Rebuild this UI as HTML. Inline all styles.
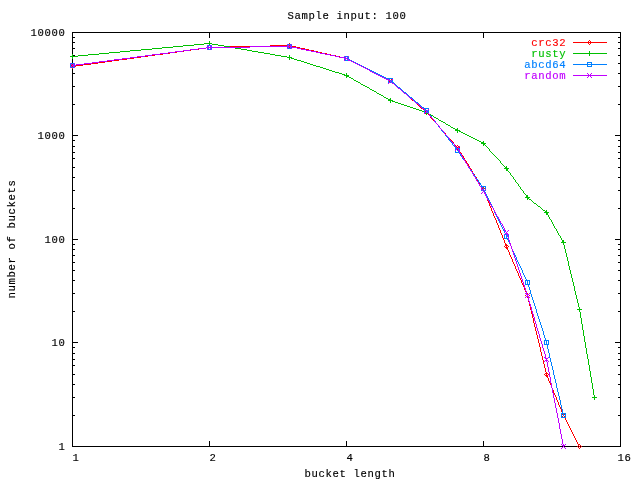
<!DOCTYPE html>
<html lang="en">
<head>
<meta charset="utf-8">
<title>Sample input: 100</title>
<style>
html,body{margin:0;padding:0;background:#fff;}
body{width:640px;height:480px;overflow:hidden;}
svg{display:block;}
text{font-family:"Liberation Mono","DejaVu Sans Mono",monospace;font-size:10.6px;letter-spacing:0.639px;fill:#000;stroke:#000;stroke-width:0.15px;}
.ln{fill:none;stroke-width:1;}
</style>
</head>
<body>
<svg width="640" height="480" viewBox="0 0 640 480">
<rect x="0" y="0" width="640" height="480" fill="#ffffff"/>

<g stroke="#000" stroke-width="1" fill="none" shape-rendering="crispEdges">
<rect x="72.5" y="32.5" width="548" height="414"/>
<path d="M72 415.5H75M621 415.5H618"/>
<path d="M72 397.5H75M621 397.5H618"/>
<path d="M72 384.5H75M621 384.5H618"/>
<path d="M72 374.5H75M621 374.5H618"/>
<path d="M72 365.5H75M621 365.5H618"/>
<path d="M72 359.5H75M621 359.5H618"/>
<path d="M72 353.5H75M621 353.5H618"/>
<path d="M72 347.5H75M621 347.5H618"/>
<path d="M72 342.5H78M621 342.5H615"/>
<path d="M72 311.5H75M621 311.5H618"/>
<path d="M72 293.5H75M621 293.5H618"/>
<path d="M72 280.5H75M621 280.5H618"/>
<path d="M72 270.5H75M621 270.5H618"/>
<path d="M72 262.5H75M621 262.5H618"/>
<path d="M72 255.5H75M621 255.5H618"/>
<path d="M72 249.5H75M621 249.5H618"/>
<path d="M72 244.5H75M621 244.5H618"/>
<path d="M72 239.5H78M621 239.5H615"/>
<path d="M72 208.5H75M621 208.5H618"/>
<path d="M72 190.5H75M621 190.5H618"/>
<path d="M72 177.5H75M621 177.5H618"/>
<path d="M72 167.5H75M621 167.5H618"/>
<path d="M72 158.5H75M621 158.5H618"/>
<path d="M72 152.5H75M621 152.5H618"/>
<path d="M72 146.5H75M621 146.5H618"/>
<path d="M72 140.5H75M621 140.5H618"/>
<path d="M72 135.5H78M621 135.5H615"/>
<path d="M72 104.5H75M621 104.5H618"/>
<path d="M72 86.5H75M621 86.5H618"/>
<path d="M72 73.5H75M621 73.5H618"/>
<path d="M72 63.5H75M621 63.5H618"/>
<path d="M72 55.5H75M621 55.5H618"/>
<path d="M72 48.5H75M621 48.5H618"/>
<path d="M72 42.5H75M621 42.5H618"/>
<path d="M72 37.5H75M621 37.5H618"/>
<path d="M209.5 447V441M209.5 32V38"/>
<path d="M346.5 447V441M346.5 32V38"/>
<path d="M483.5 447V441M483.5 32V38"/>
</g>
<text x="30.5" y="36" text-anchor="start">10000</text>
<text x="37.5" y="139" text-anchor="start">1000</text>
<text x="44.5" y="243" text-anchor="start">100</text>
<text x="51.5" y="346" text-anchor="start">10</text>
<text x="58.5" y="450" text-anchor="start">1</text>
<text x="72.5" y="461" text-anchor="start">1</text>
<text x="209.5" y="461" text-anchor="start">2</text>
<text x="346.5" y="461" text-anchor="start">4</text>
<text x="483.5" y="461" text-anchor="start">8</text>
<text x="617.5" y="461" text-anchor="start">16</text>
<text x="287.5" y="19" text-anchor="start">Sample input: 100</text>
<text x="304.5" y="477" text-anchor="start">bucket length</text>
<text transform="translate(15,298.5) rotate(-90)" x="0" y="0">number of buckets</text>
<path d="M573 42.5h34M270 45.5h22M230 46.5h40M292 46.5h4M206 47.5h24M296 47.5h4M199 48.5h7M300 48.5h5M191 49.5h8M305 49.5h4M184 50.5h7M309 50.5h5M177 51.5h7M314 51.5h4M170 52.5h7M318 52.5h4M163 53.5h7M322 53.5h5M155 54.5h8M327 54.5h4M148 55.5h7M331 55.5h5M141 56.5h7M336 56.5h4M134 57.5h7M340 57.5h4M127 58.5h7M344 58.5h5M119 59.5h8M347 59.5h3M112 60.5h7M350 60.5h2M105 61.5h7M352 61.5h2M98 62.5h7M354 62.5h2M91 63.5h7M356 63.5h2M83 64.5h8M358 64.5h2M76 65.5h7M360 65.5h2M72 66.5h4M362 66.5h2M364 67.5h2M366 68.5h2M368 69.5h2M370 70.5h2M372 71.5h2M374 72.5h2M376 73.5h2M378 74.5h2M380 75.5h2M382 76.5h2M384 77.5h2M386 78.5h2M388 79.5h2M394 84.5h2M403 92.5h2M412 100.5h2M421 108.5h2M457 149.5h2M482 187.5h2M482 190.5h3M483 191.5h2M505 244.5h2M505 245.5h3M505 247.5h3M506 248.5h2M526 293.5h2M526 294.5h3M526 296.5h3M545 373.5h3M545 375.5h3M546 376.5h2M562 413.5h2M562 414.5h3M563 417.5h2M578 444.5h2M70.5 66v1M71.5 65v1M71.5 67v1M72.5 64v1M72.5 68v1M73.5 65v1M73.5 67v1M208.5 46v1M208.5 48v1M209.5 45v1M209.5 49v1M210.5 46v1M210.5 48v1M288.5 44v1M288.5 46v1M289.5 43v1M289.5 47v1M290.5 44v1M290.5 46v1M345.5 57v1M345.5 59v1M346.5 56v1M346.5 60v1M347.5 57v1M388.5 80v1M389.5 81v1M390.5 78v1M390.5 80v1M390.5 82v1M391.5 79v1M391.5 81v1M392.5 80v1M392.5 82v1M393.5 83v1M396.5 85v1M397.5 86v1M398.5 87v1M399.5 88v1M400.5 89v1M401.5 90v1M402.5 91v1M405.5 93v1M406.5 94v1M407.5 95v1M408.5 96v1M409.5 97v1M410.5 98v1M411.5 99v1M414.5 101v1M415.5 102v1M416.5 103v1M417.5 104v1M418.5 105v1M419.5 106v1M420.5 107v1M423.5 109v1M424.5 110v1M424.5 112v1M425.5 111v1M425.5 113v1M426.5 110v1M426.5 112v1M426.5 114v1M427.5 111v1M427.5 113v1M428.5 112v1M428.5 114v1M429.5 115v1M430.5 116v2M431.5 118v1M432.5 119v1M433.5 120v1M434.5 121v1M435.5 122v1M436.5 123v1M437.5 124v1M438.5 125v2M439.5 127v1M440.5 128v1M441.5 129v1M442.5 130v1M443.5 131v1M444.5 132v1M445.5 133v2M446.5 135v1M447.5 136v1M448.5 137v1M449.5 138v1M450.5 139v1M451.5 140v1M452.5 141v1M453.5 142v2M454.5 144v1M455.5 145v1M455.5 147v1M456.5 146v1M456.5 148v1M457.5 145v1M457.5 147v1M458.5 146v1M458.5 148v1M459.5 147v1M459.5 150v2M460.5 152v1M461.5 153v2M462.5 155v1M463.5 156v2M464.5 158v2M465.5 160v1M466.5 161v2M467.5 163v1M468.5 164v2M469.5 166v2M470.5 168v1M471.5 169v2M472.5 171v2M473.5 173v1M474.5 174v2M475.5 176v1M476.5 177v2M477.5 179v2M478.5 181v1M479.5 182v2M480.5 184v1M481.5 185v2M481.5 189v1M482.5 188v1M483.5 189v1M484.5 188v1M484.5 192v1M485.5 189v1M485.5 193v3M486.5 196v2M487.5 198v3M488.5 201v2M489.5 203v3M490.5 206v2M491.5 208v3M492.5 211v2M493.5 213v3M494.5 216v2M495.5 218v2M496.5 220v3M497.5 223v2M498.5 225v3M499.5 228v2M500.5 230v3M501.5 233v2M502.5 235v3M503.5 238v2M504.5 240v3M504.5 246v1M505.5 243v1M506.5 246v1M507.5 249v1M508.5 246v1M508.5 250v2M509.5 252v3M510.5 255v2M511.5 257v2M512.5 259v3M513.5 262v2M514.5 264v2M515.5 266v3M516.5 269v2M517.5 271v2M518.5 273v3M519.5 276v2M520.5 278v2M521.5 280v3M522.5 283v2M523.5 285v2M524.5 287v3M525.5 290v2M525.5 295v1M526.5 292v1M527.5 295v1M527.5 297v1M528.5 298v4M529.5 295v1M529.5 302v4M530.5 306v4M531.5 310v4M532.5 314v4M533.5 318v5M534.5 323v4M535.5 327v4M536.5 331v4M537.5 335v4M538.5 339v4M539.5 343v4M540.5 347v5M541.5 352v4M542.5 356v4M543.5 360v4M544.5 364v4M544.5 374v1M545.5 368v4M546.5 372v1M546.5 374v1M547.5 377v1M548.5 374v1M548.5 378v3M549.5 381v2M550.5 383v2M551.5 385v3M552.5 388v2M553.5 390v3M554.5 393v2M555.5 395v2M556.5 397v3M557.5 400v2M558.5 402v3M559.5 405v2M560.5 407v2M561.5 409v3M561.5 415v1M562.5 412v1M562.5 416v1M563.5 415v1M564.5 416v1M565.5 415v1M565.5 418v2M566.5 420v2M567.5 422v2M568.5 424v2M569.5 426v2M570.5 428v2M571.5 430v2M572.5 432v2M573.5 434v2M574.5 436v2M575.5 438v2M576.5 440v2M577.5 442v2M577.5 446v1M578.5 445v1M578.5 447v1M579.5 446v1M579.5 448v1M580.5 445v1M580.5 447v1M581.5 446v1M588.5 41v1M588.5 43v1M589.5 40v1M589.5 44v1M590.5 41v1M590.5 43v1" fill="none" stroke="#ff0000" stroke-width="1" shape-rendering="crispEdges"/>
<text x="531.2" y="46" text-anchor="start" style="fill:#ff0000;stroke:#ff0000">crc32</text>
<path d="M204 43.5h8M194 44.5h10M212 44.5h6M183 45.5h11M218 45.5h6M173 46.5h10M224 46.5h6M162 47.5h11M230 47.5h5M152 48.5h10M235 48.5h6M141 49.5h11M241 49.5h6M130 50.5h11M247 50.5h5M120 51.5h10M252 51.5h6M109 52.5h11M258 52.5h6M99 53.5h10M264 53.5h6M573 53.5h34M88 54.5h11M270 54.5h5M78 55.5h10M275 55.5h6M70 56.5h8M281 56.5h6M287 57.5h5M291 58.5h3M294 59.5h3M297 60.5h4M301 61.5h3M304 62.5h3M307 63.5h3M310 64.5h3M313 65.5h3M316 66.5h4M320 67.5h3M323 68.5h3M326 69.5h3M329 70.5h3M332 71.5h3M335 72.5h4M339 73.5h3M342 74.5h3M344 75.5h5M346 76.5h3M349 77.5h2M351 78.5h2M354 80.5h2M356 81.5h2M358 82.5h2M361 84.5h2M363 85.5h2M365 86.5h2M367 87.5h2M370 89.5h2M372 90.5h2M374 91.5h2M377 93.5h2M379 94.5h2M381 95.5h2M384 97.5h2M386 98.5h2M388 99.5h3M388 100.5h5M392 101.5h3M395 102.5h3M398 103.5h3M401 104.5h3M404 105.5h3M407 106.5h3M410 107.5h3M413 108.5h3M416 109.5h3M419 110.5h3M422 111.5h3M424 112.5h5M426 113.5h3M429 114.5h2M431 115.5h2M434 117.5h2M436 118.5h2M439 120.5h2M441 121.5h2M443 122.5h2M446 124.5h2M448 125.5h2M451 127.5h2M453 128.5h2M455 129.5h3M455 130.5h5M459 131.5h2M461 132.5h2M463 133.5h2M465 134.5h2M467 135.5h2M469 136.5h2M471 137.5h2M473 138.5h2M475 139.5h2M477 140.5h2M479 141.5h2M481 142.5h3M481 143.5h5M483 144.5h2M505 167.5h2M504 168.5h5M506 169.5h2M506 170.5h2M526 195.5h2M526 196.5h2M525 197.5h5M527 198.5h2M529 199.5h2M534 203.5h2M538 206.5h2M543 210.5h2M545 211.5h2M544 212.5h5M546 213.5h2M546 214.5h2M562 240.5h2M562 241.5h2M561 242.5h5M577 309.5h5M592 397.5h5M72.5 54v2M72.5 57v2M209.5 41v2M209.5 44v2M289.5 55v2M289.5 58v2M346.5 73v2M346.5 77v1M353.5 79v1M360.5 83v1M369.5 88v1M376.5 92v1M383.5 96v1M390.5 98v1M390.5 101v2M426.5 110v2M426.5 114v1M433.5 116v1M438.5 119v1M445.5 123v1M450.5 126v1M457.5 128v1M457.5 131v2M483.5 141v1M483.5 145v1M485.5 145v1M486.5 146v1M487.5 147v1M488.5 148v1M489.5 149v2M490.5 151v1M491.5 152v1M492.5 153v1M493.5 154v1M494.5 155v1M495.5 156v1M496.5 157v1M497.5 158v1M498.5 159v1M499.5 160v1M500.5 161v2M501.5 163v1M502.5 164v1M503.5 165v1M504.5 166v1M506.5 166v1M508.5 171v1M509.5 172v1M510.5 173v2M511.5 175v1M512.5 176v1M513.5 177v2M514.5 179v1M515.5 180v2M516.5 182v1M517.5 183v1M518.5 184v2M519.5 186v1M520.5 187v2M521.5 189v1M522.5 190v1M523.5 191v2M524.5 193v1M525.5 194v1M527.5 199v1M531.5 200v1M532.5 201v1M533.5 202v1M536.5 204v1M537.5 205v1M540.5 207v1M541.5 208v1M542.5 209v1M546.5 210v1M548.5 215v2M549.5 217v2M550.5 219v1M551.5 220v2M552.5 222v2M553.5 224v2M554.5 226v2M555.5 228v1M556.5 229v2M557.5 231v2M558.5 233v2M559.5 235v1M560.5 236v2M561.5 238v2M563.5 243v2M564.5 245v4M565.5 249v4M566.5 253v4M567.5 257v4M568.5 261v5M569.5 266v4M570.5 270v4M571.5 274v4M572.5 278v4M573.5 282v4M574.5 286v5M575.5 291v4M576.5 295v4M577.5 299v4M578.5 303v4M579.5 307v2M579.5 310v2M580.5 312v6M581.5 318v6M582.5 324v6M583.5 330v6M584.5 336v6M585.5 342v6M586.5 348v6M587.5 354v5M588.5 359v6M589.5 51v2M589.5 54v2M589.5 365v6M590.5 371v6M591.5 377v6M592.5 383v6M593.5 389v6M594.5 395v2M594.5 398v2" fill="none" stroke="#00c000" stroke-width="1" shape-rendering="crispEdges"/>
<text x="531.2" y="57" text-anchor="start" style="fill:#00c000;stroke:#00c000">rusty</text>
<path d="M287 44.5h5M207 45.5h5M250 46.5h42M206 47.5h44M291 47.5h6M198 48.5h8M287 48.5h5M297 48.5h4M190 49.5h8M207 49.5h5M301 49.5h5M183 50.5h7M306 50.5h5M175 51.5h8M311 51.5h5M168 52.5h7M316 52.5h4M160 53.5h8M320 53.5h5M152 54.5h8M325 54.5h5M145 55.5h7M330 55.5h5M137 56.5h8M335 56.5h4M344 56.5h5M130 57.5h7M339 57.5h6M122 58.5h8M344 58.5h5M114 59.5h8M348 59.5h2M107 60.5h7M344 60.5h5M350 60.5h2M99 61.5h8M352 61.5h2M92 62.5h7M354 62.5h2M587 62.5h5M70 63.5h5M84 63.5h8M356 63.5h2M76 64.5h8M358 64.5h2M573 64.5h34M72 65.5h4M360 65.5h2M362 66.5h2M587 66.5h5M70 67.5h5M364 67.5h2M366 68.5h2M368 69.5h2M370 70.5h2M372 71.5h2M374 72.5h2M376 73.5h2M378 74.5h2M380 75.5h2M382 76.5h2M384 77.5h2M386 78.5h7M388 79.5h2M391 81.5h2M388 82.5h6M398 87.5h2M404 92.5h2M410 97.5h2M416 102.5h2M422 107.5h2M424 108.5h5M424 109.5h2M427 111.5h2M424 112.5h5M455 148.5h5M455 149.5h2M458 151.5h2M455 152.5h5M481 186.5h5M481 187.5h2M481 190.5h5M504 234.5h5M504 238.5h5M525 280.5h5M525 284.5h5M544 340.5h5M544 344.5h5M561 413.5h5M561 417.5h5M70.5 64v3M74.5 64v1M74.5 66v1M207.5 46v1M207.5 48v1M211.5 46v1M211.5 48v1M287.5 45v1M287.5 47v1M291.5 45v1M344.5 59v1M348.5 57v1M388.5 80v2M390.5 80v1M392.5 79v2M394.5 83v1M395.5 84v1M396.5 85v1M397.5 86v1M400.5 88v1M401.5 89v1M402.5 90v1M403.5 91v1M406.5 93v1M407.5 94v1M408.5 95v1M409.5 96v1M412.5 98v1M413.5 99v1M414.5 100v1M415.5 101v1M418.5 103v1M419.5 104v1M420.5 105v1M421.5 106v1M424.5 110v2M426.5 110v1M428.5 109v2M428.5 113v1M429.5 114v1M430.5 115v1M431.5 116v2M432.5 118v1M433.5 119v1M434.5 120v1M435.5 121v2M436.5 123v1M437.5 124v1M438.5 125v2M439.5 127v1M440.5 128v1M441.5 129v2M442.5 131v1M443.5 132v1M444.5 133v1M445.5 134v2M446.5 136v1M447.5 137v1M448.5 138v2M449.5 140v1M450.5 141v1M451.5 142v1M452.5 143v2M453.5 145v1M454.5 146v1M455.5 147v1M455.5 150v2M457.5 150v1M459.5 149v2M459.5 153v1M460.5 154v2M461.5 156v1M462.5 157v2M463.5 159v1M464.5 160v1M465.5 161v2M466.5 163v1M467.5 164v2M468.5 166v1M469.5 167v2M470.5 169v1M471.5 170v2M472.5 172v1M473.5 173v2M474.5 175v1M475.5 176v2M476.5 178v1M477.5 179v1M478.5 180v2M479.5 182v1M480.5 183v2M481.5 185v1M481.5 188v2M483.5 188v2M484.5 191v1M485.5 187v3M485.5 192v2M486.5 194v2M487.5 196v2M488.5 198v2M489.5 200v2M490.5 202v2M491.5 204v2M492.5 206v2M493.5 208v2M494.5 210v3M495.5 213v2M496.5 215v2M497.5 217v2M498.5 219v2M499.5 221v2M500.5 223v2M501.5 225v2M502.5 227v2M503.5 229v2M504.5 231v2M504.5 235v3M505.5 233v1M506.5 235v3M507.5 239v1M508.5 235v3M508.5 240v2M509.5 242v2M510.5 244v2M511.5 246v3M512.5 249v2M513.5 251v2M514.5 253v2M515.5 255v2M516.5 257v3M517.5 260v2M518.5 262v2M519.5 264v2M520.5 266v2M521.5 268v2M522.5 270v3M523.5 273v2M524.5 275v2M525.5 277v2M525.5 281v3M526.5 279v1M527.5 281v3M528.5 285v2M529.5 281v3M529.5 287v3M530.5 290v4M531.5 294v3M532.5 297v3M533.5 300v3M534.5 303v3M535.5 306v3M536.5 309v4M537.5 313v3M538.5 316v3M539.5 319v3M540.5 322v3M541.5 325v3M542.5 328v3M543.5 331v4M544.5 335v3M544.5 341v3M545.5 338v2M546.5 341v3M547.5 345v4M548.5 341v3M548.5 349v4M549.5 353v5M550.5 358v4M551.5 362v4M552.5 366v4M553.5 370v5M554.5 375v4M555.5 379v4M556.5 383v5M557.5 388v4M558.5 392v4M559.5 396v4M560.5 400v5M561.5 405v4M561.5 414v3M562.5 409v4M563.5 414v2M565.5 414v3M587.5 63v1M587.5 65v1M591.5 63v1M591.5 65v1" fill="none" stroke="#0080ff" stroke-width="1" shape-rendering="crispEdges"/>
<text x="524.2" y="68" text-anchor="start" style="fill:#0080ff;stroke:#0080ff">abcd64</text>
<path d="M250 46.5h42M206 47.5h44M292 47.5h5M198 48.5h8M297 48.5h4M190 49.5h8M301 49.5h5M183 50.5h7M306 50.5h5M175 51.5h8M311 51.5h5M168 52.5h7M316 52.5h4M160 53.5h8M320 53.5h5M152 54.5h8M325 54.5h5M145 55.5h7M330 55.5h5M137 56.5h8M335 56.5h4M130 57.5h7M339 57.5h5M122 58.5h8M344 58.5h3M114 59.5h8M347 59.5h2M107 60.5h7M348 60.5h3M99 61.5h8M351 61.5h2M92 62.5h7M353 62.5h2M84 63.5h8M355 63.5h2M76 64.5h8M357 64.5h2M72 65.5h4M359 65.5h2M361 66.5h2M363 67.5h2M365 68.5h2M367 69.5h2M370 71.5h2M372 72.5h2M374 73.5h2M376 74.5h2M378 75.5h2M573 75.5h34M380 76.5h2M382 77.5h2M384 78.5h2M386 79.5h3M388 80.5h2M392 83.5h2M398 88.5h2M404 93.5h2M410 98.5h2M416 103.5h2M422 108.5h2M458 150.5h2M481 189.5h2M484 193.5h2M504 230.5h2M505 233.5h3M507 234.5h2M525 293.5h2M526 294.5h3M526 296.5h3M528 297.5h2M544 357.5h2M545 358.5h3M545 360.5h3M562 445.5h3M70.5 63v1M70.5 67v1M71.5 64v1M71.5 66v1M73.5 64v1M73.5 66v1M74.5 63v1M74.5 67v1M207.5 45v1M207.5 49v1M208.5 46v1M208.5 48v1M210.5 46v1M210.5 48v1M211.5 45v1M211.5 49v1M287.5 44v1M287.5 48v1M288.5 45v1M288.5 47v1M290.5 45v1M290.5 47v1M291.5 44v1M291.5 48v1M344.5 56v1M344.5 60v1M345.5 57v1M345.5 59v1M347.5 57v1M348.5 56v1M369.5 70v1M388.5 83v1M389.5 82v1M390.5 81v1M391.5 80v1M391.5 82v1M392.5 79v1M394.5 84v1M395.5 85v1M396.5 86v1M397.5 87v1M400.5 89v1M401.5 90v1M402.5 91v1M403.5 92v1M406.5 94v1M407.5 95v1M408.5 96v1M409.5 97v1M412.5 99v1M413.5 100v1M414.5 101v1M415.5 102v1M418.5 104v1M419.5 105v1M420.5 106v1M421.5 107v1M424.5 109v1M424.5 113v1M425.5 110v1M425.5 112v1M426.5 111v1M427.5 110v1M427.5 112v1M428.5 109v1M428.5 113v1M429.5 114v2M430.5 116v1M431.5 117v1M432.5 118v1M433.5 119v1M434.5 120v2M435.5 122v1M436.5 123v1M437.5 124v1M438.5 125v1M439.5 126v2M440.5 128v1M441.5 129v1M442.5 130v1M443.5 131v1M444.5 132v2M445.5 134v1M446.5 135v1M447.5 136v1M448.5 137v1M449.5 138v2M450.5 140v1M451.5 141v1M452.5 142v1M453.5 143v1M454.5 144v2M455.5 146v1M455.5 150v1M456.5 147v1M456.5 149v1M457.5 148v1M458.5 147v1M458.5 149v1M459.5 146v1M459.5 151v2M460.5 153v1M461.5 154v2M462.5 156v2M463.5 158v1M464.5 159v2M465.5 161v2M466.5 163v1M467.5 164v2M468.5 166v2M469.5 168v1M470.5 169v2M471.5 171v1M472.5 172v2M473.5 174v2M474.5 176v1M475.5 177v2M476.5 179v2M477.5 181v1M478.5 182v2M479.5 184v2M480.5 186v1M481.5 187v2M481.5 193v1M482.5 190v1M482.5 192v1M483.5 191v1M484.5 190v1M484.5 192v1M485.5 189v1M485.5 194v2M486.5 196v2M487.5 198v2M488.5 200v1M489.5 201v2M490.5 203v2M491.5 205v2M492.5 207v1M493.5 208v2M494.5 210v2M495.5 212v2M496.5 214v2M497.5 216v1M498.5 217v2M499.5 219v2M500.5 221v2M501.5 223v1M502.5 224v2M503.5 226v2M504.5 228v2M504.5 234v1M505.5 231v1M506.5 232v1M507.5 231v1M507.5 235v2M508.5 230v1M508.5 237v3M509.5 240v3M510.5 243v3M511.5 246v3M512.5 249v3M513.5 252v3M514.5 255v3M515.5 258v3M516.5 261v3M517.5 264v3M518.5 267v3M519.5 270v3M520.5 273v3M521.5 276v3M522.5 279v3M523.5 282v3M524.5 285v3M525.5 288v3M525.5 297v1M526.5 291v2M527.5 295v1M528.5 298v3M529.5 293v1M529.5 301v3M530.5 304v3M531.5 307v4M532.5 311v3M533.5 314v3M534.5 317v4M535.5 321v3M536.5 324v4M537.5 328v3M538.5 331v3M539.5 334v4M540.5 338v3M541.5 341v3M542.5 344v4M543.5 348v3M544.5 351v3M544.5 361v1M545.5 354v3M546.5 359v1M546.5 361v1M547.5 362v5M548.5 357v1M548.5 361v1M548.5 367v5M549.5 372v5M550.5 377v6M551.5 383v5M552.5 388v5M553.5 393v5M554.5 398v5M555.5 403v5M556.5 408v5M557.5 413v5M558.5 418v5M559.5 423v6M560.5 429v5M561.5 434v5M561.5 444v1M561.5 448v1M562.5 439v5M562.5 447v1M563.5 444v1M563.5 446v1M564.5 447v1M565.5 444v1M565.5 448v1M587.5 73v1M587.5 77v1M588.5 74v1M588.5 76v1M590.5 74v1M590.5 76v1M591.5 73v1M591.5 77v1" fill="none" stroke="#c000ff" stroke-width="1" shape-rendering="crispEdges"/>
<text x="524.2" y="79" text-anchor="start" style="fill:#c000ff;stroke:#c000ff">random</text>
</svg>
</body>
</html>
